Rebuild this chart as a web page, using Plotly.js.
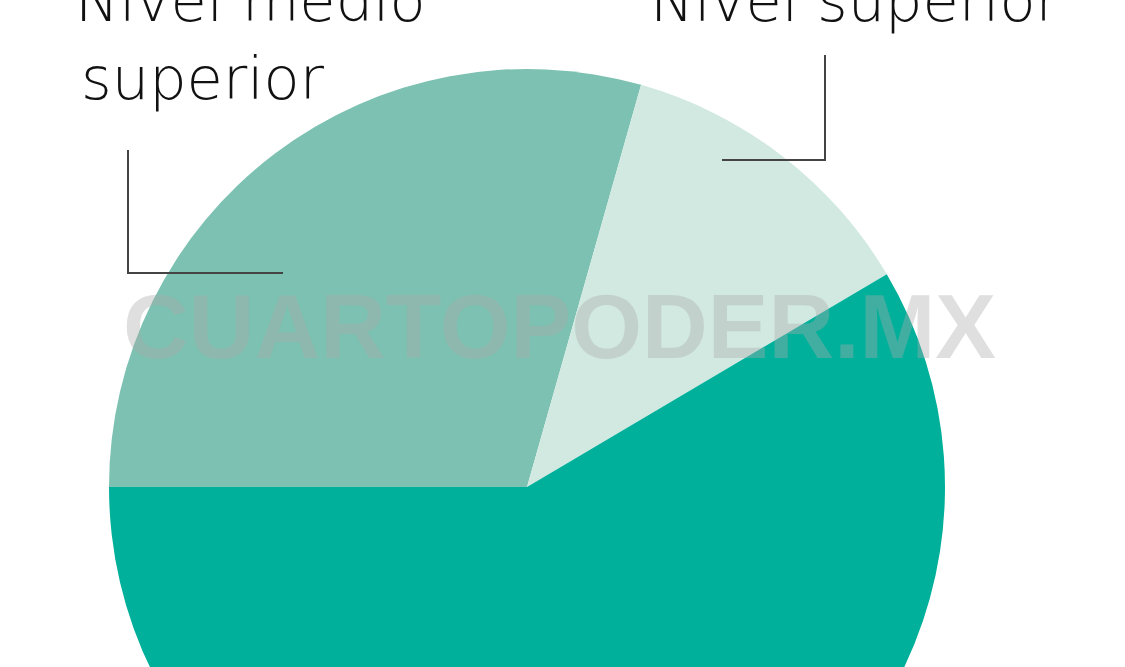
<!DOCTYPE html>
<html>
<head>
<meta charset="utf-8">
<script src="https://cdn.plot.ly/plotly-3.0.1.min.js"></script>
<style>
  html, body { margin: 0; padding: 0; background: #fff; overflow: hidden; }
  #pie { width: 1125px; height: 1000px; }
</style>
</head>
<body>
<div id="pie"></div>
<script>
// slices, clockwise from 9 o'clock
var levels = ['Nivel medio superior', 'Nivel superior', 'Nivel básico'];
var shares = [29.4, 12.1, 58.5];
var sliceColors = ['#7cc1b1', '#d2e9e2', '#00b09b'];

function drawChart() {
  var W = 1125, H = 1000;
  // screen pixels -> paper coords
  function px(x) { return x / W; }
  function py(y) { return 1 - y / H; }

  var data = [{
    type: 'pie',
    labels: levels,
    values: shares,
    sort: false,
    direction: 'clockwise',
    rotation: -90,
    textinfo: 'none',
    hoverinfo: 'none',
    marker: { colors: sliceColors, line: { width: 0 } },
    domain: { x: [px(109), px(945)], y: [py(905), py(69)] }
  }];

  var labelFont = { family: 'DejaVu Sans', size: 59, color: '#111', weight: 300 };
  var lineStyle = { color: '#444', width: 2 };

  var layout = {
    width: W,
    height: H,
    margin: { l: 0, r: 0, t: 0, b: 0 },
    paper_bgcolor: '#fff',
    showlegend: false,
    annotations: [
      { text: 'Nivel medio', x: px(73), y: py(0), xref: 'paper', yref: 'paper',
        xanchor: 'left', yanchor: 'middle', showarrow: false, font: labelFont },
      { text: 'superior', x: px(79), y: py(79), xref: 'paper', yref: 'paper',
        xanchor: 'left', yanchor: 'middle', showarrow: false, font: labelFont },
      { text: 'Nivel superior', x: px(648), y: py(0), xref: 'paper', yref: 'paper',
        xanchor: 'left', yanchor: 'middle', showarrow: false, font: labelFont },
      { text: 'CUARTOPODER.MX', x: px(559), y: py(327), xref: 'paper', yref: 'paper',
        xanchor: 'center', yanchor: 'middle', showarrow: false,
        font: { family: 'Liberation Sans', size: 91, weight: 'bold', color: 'rgba(170,170,170,0.38)' } }
    ],
    shapes: [
      { type: 'line', xref: 'paper', yref: 'paper', x0: px(128), x1: px(128), y0: py(150), y1: py(274), line: lineStyle },
      { type: 'line', xref: 'paper', yref: 'paper', x0: px(128), x1: px(283), y0: py(273), y1: py(273), line: lineStyle },
      { type: 'line', xref: 'paper', yref: 'paper', x0: px(825), x1: px(825), y0: py(55), y1: py(161), line: lineStyle },
      { type: 'line', xref: 'paper', yref: 'paper', x0: px(722), x1: px(826), y0: py(160), y1: py(160), line: lineStyle }
    ]
  };

  Plotly.newPlot('pie', data, layout, { displayModeBar: false, staticPlot: true });
}

drawChart();
</script>
</body>
</html>
